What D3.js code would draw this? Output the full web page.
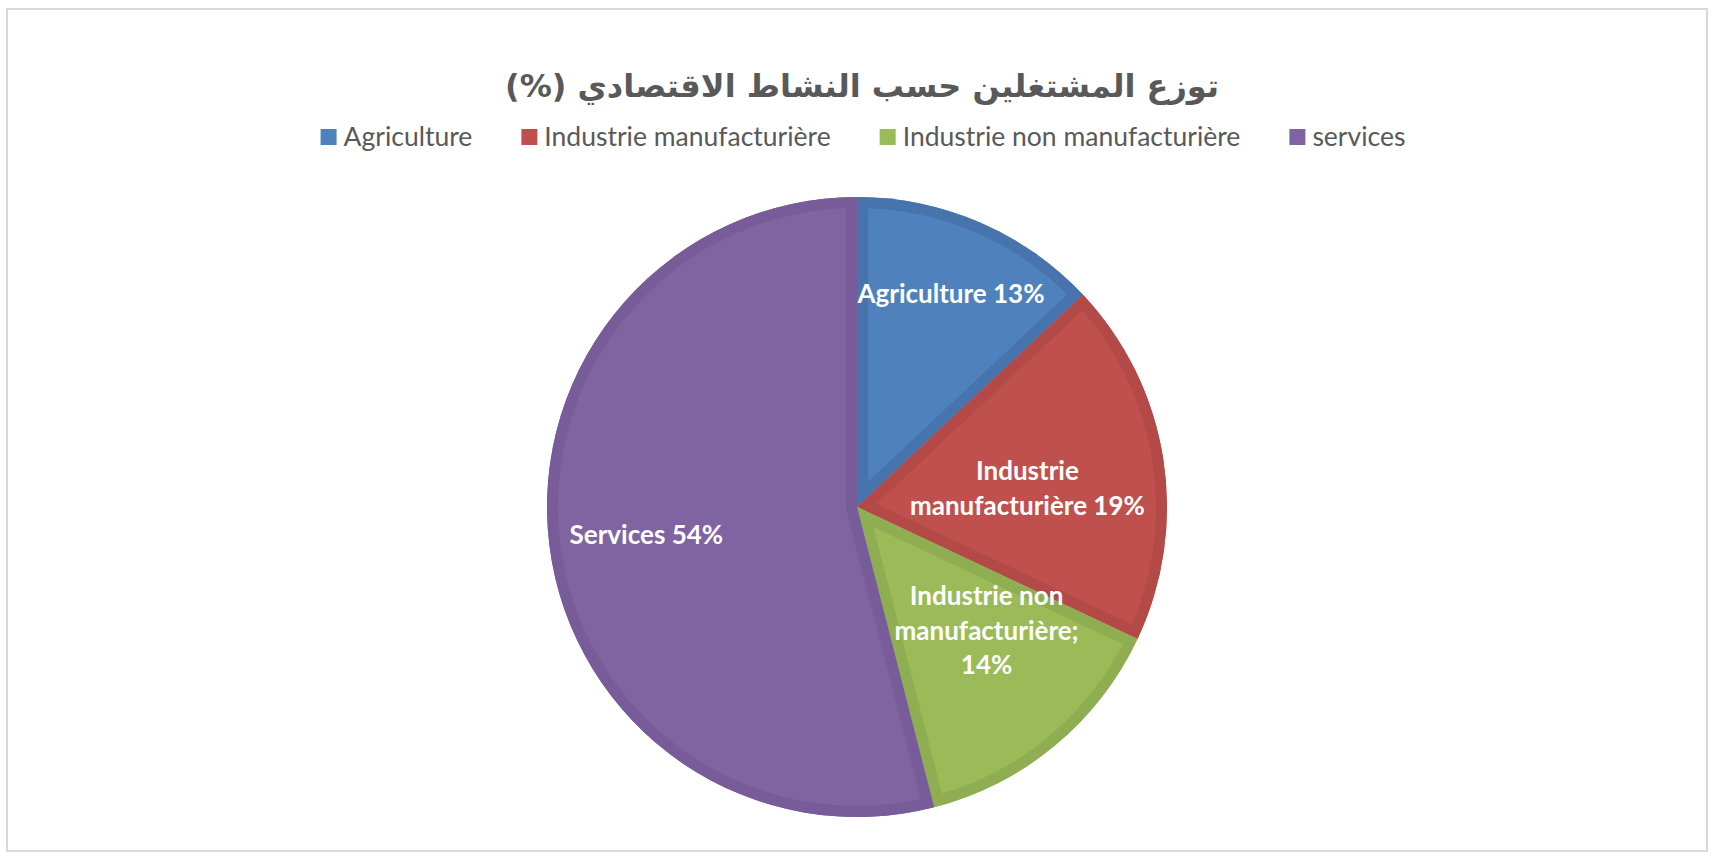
<!DOCTYPE html>
<html>
<head>
<meta charset="utf-8">
<script src="https://cdn.jsdelivr.net/npm/d3@7"></script>
<style>
  html, body { margin: 0; padding: 0; background: #ffffff; }
  svg { display: block; }
</style>
</head>
<body>
<svg id="chart" width="1712" height="857"></svg>
<script>
// ---- data ----
const title = "توزع المشتغلين حسب النشاط الاقتصادي (%)";
const categories = ["Agriculture", "Industrie manufacturière", "Industrie non manufacturière", "services"];
const values = [13, 19, 14, 54];
const sliceLabels = [
  ["Agriculture 13%"],
  ["Industrie", "manufacturière 19%"],
  ["Industrie non", "manufacturière;", "14%"],
  ["Services 54%"]
];

// ---- style / layout ----
const colors = ["#4f81bd", "#c0504d", "#9bbb59", "#8064a2"];
const bandColors = ["#4874ad", "#b34a47", "#8fae52", "#775c99"];
const labelRadiusFrac = [0.755, 0.55, 0.58, 0.685];
const labelNudge = [[1, 2], [2, 8], [15, -15], [0, 1]];
const W = 1712, H = 857;
const cx = 857, cy = 507, R = 310;

const svg = d3.select("#chart");

// border
svg.append("rect")
  .attr("x", 7).attr("y", 9).attr("width", 1700).attr("height", 842)
  .attr("fill", "#ffffff").attr("stroke", "#d9d9d9").attr("stroke-width", 2);

// title
svg.append("text")
  .attr("x", 862).attr("y", 97)
  .attr("text-anchor", "middle")
  .attr("direction", "rtl")
  .style("unicode-bidi", "embed")
  .attr("font-family", "'DejaVu Sans', sans-serif")
  .attr("font-weight", "bold")
  .attr("font-size", 32)
  .attr("fill", "#595959")
  .text(title);

// legend
const legendFont = 26.5;
const legend = svg.append("g");
const items = legend.selectAll("g").data(categories).enter().append("g");
items.append("rect")
  .attr("width", 16).attr("height", 16)
  .attr("y", 129)
  .attr("fill", (d, i) => colors[i]);
items.append("text")
  .attr("y", 146)
  .attr("font-family", "Lato, sans-serif")
  .attr("font-size", legendFont)
  .attr("fill", "#595959")
  .text(d => d);
let widths = [];
items.select("text").each(function () { widths.push(this.getComputedTextLength()); });
const sqW = 16, sqGap = 7, itemGap = 49;
const total = d3.sum(widths) + widths.length * (sqW + sqGap) + (widths.length - 1) * itemGap;
let xPos = 863 - total / 2;
items.each(function (d, i) {
  const g = d3.select(this);
  g.select("rect").attr("x", xPos);
  g.select("text").attr("x", xPos + sqW + sqGap);
  xPos += sqW + sqGap + widths[i] + itemGap;
});

// pie
const pie = d3.pie().sort(null).value(d => d)
  .startAngle(0).endAngle(2 * Math.PI);
const arcs = pie(values);
const arc = d3.arc().innerRadius(0).outerRadius(R);

const defs = svg.append("defs");
const pg = svg.append("g").attr("transform", `translate(${cx},${cy})`);

arcs.forEach((a, i) => {
  defs.append("clipPath").attr("id", "clip" + i)
    .append("path").attr("d", arc(a));
  pg.append("path")
    .attr("d", arc(a))
    .attr("fill", colors[i]);
  pg.append("path")
    .attr("d", arc(a))
    .attr("fill", "none")
    .attr("stroke", bandColors[i])
    .attr("stroke-width", 22)
    .attr("stroke-linejoin", "miter")
    .attr("clip-path", `url(#clip${i})`);
});

// slice labels
const labelFont = 26, lineH = 34.5;
arcs.forEach((a, i) => {
  const lr = R * labelRadiusFrac[i];
  const c = d3.arc().innerRadius(lr).outerRadius(lr).centroid(a);
  const px = c[0] + labelNudge[i][0], py = c[1] + labelNudge[i][1];
  const lines = sliceLabels[i];
  const t = pg.append("text")
    .attr("text-anchor", "middle")
    .attr("font-family", "Lato, sans-serif")
    .attr("font-weight", "bold")
    .attr("font-size", labelFont)
    .attr("fill", "#ffffff");
  lines.forEach((ln, j) => {
    t.append("tspan")
      .attr("x", px)
      .attr("y", py + (j - (lines.length - 1) / 2) * lineH + labelFont * 0.35)
      .text(ln);
  });
});
</script>
</body>
</html>
